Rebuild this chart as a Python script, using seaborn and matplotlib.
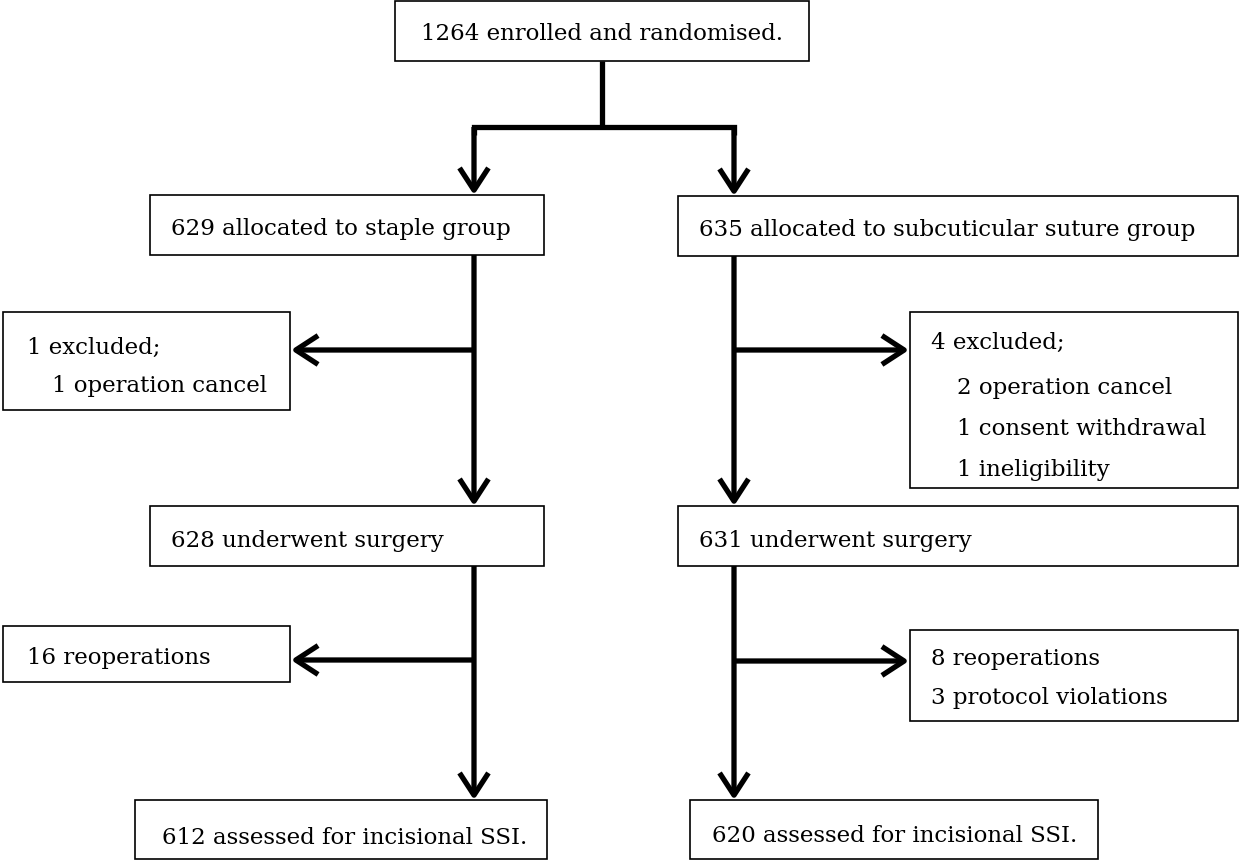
import matplotlib
matplotlib.use("Agg")
import matplotlib.pyplot as plt
from matplotlib.patches import Rectangle
import seaborn as sns

# trial numbers
enrolled = 1264
groups = ["staple group", "subcuticular suture group"]
allocated = [629, 635]
excluded = [1, 4]
exclusion_reasons = [
    [("operation cancel", 1)],
    [("operation cancel", 2), ("consent withdrawal", 1), ("ineligibility", 1)],
]
surgery = [628, 631]
reoperations = [16, 8]
protocol_violations = [0, 3]
assessed = [612, 620]

sns.set_theme(style="white")
plt.rcParams["font.family"] = ["DejaVu Serif"]

W, H = 1241, 862
fig = plt.figure(figsize=(W / 100, H / 100), dpi=100)
ax = fig.add_axes([0, 0, 1, 1])
ax.set_xlim(0, W)
ax.set_ylim(H, 0)
ax.axis("off")

FS = 16.5
BOX_LW = 1.2
ARROW_LW = 3.8


def box(x0, y0, x1, y1):
    ax.add_patch(Rectangle((x0, y0), x1 - x0, y1 - y0, fill=False,
                           edgecolor="black", lw=BOX_LW))


def path(xs, ys):
    ax.plot(xs, ys, color="black", lw=ARROW_LW,
            solid_capstyle="butt", solid_joinstyle="miter")


def arrow(x0, y0, x1, y1):
    ax.annotate("", xy=(x1, y1), xytext=(x0, y0),
                arrowprops=dict(arrowstyle="->,head_length=0.8,head_width=0.52",
                                lw=ARROW_LW, color="black", mutation_scale=20,
                                shrinkA=0, shrinkB=0, capstyle="butt"))


def label(x, y, s, ha="left"):
    ax.text(x, y, s, ha=ha, va="center", fontsize=FS, color="black")


cols = [474, 734]

# top box
box(395, 2, 809, 62)
label(602, 34, f"{enrolled} enrolled and randomised.", ha="center")
path([602, 602], [62, 128])
path([cols[0], cols[0], cols[1], cols[1]], [136, 128, 128, 136])
arrow(cols[0], 128, cols[0], 196)
arrow(cols[1], 128, cols[1], 197)

# allocation boxes
box(150, 196, 544, 256)
label(171, 229, f"{allocated[0]} allocated to {groups[0]}")
box(678, 197, 1238, 257)
label(699, 230, f"{allocated[1]} allocated to {groups[1]}")

# exclusions
arrow(cols[0], 256, cols[0], 507)
arrow(cols[0], 351, 291, 351)
box(3, 313, 290, 411)
label(27, 348, f"{excluded[0]} excluded;")
for i, (why, n) in enumerate(exclusion_reasons[0]):
    label(52, 386 + i * 42, f"{n} {why}")

arrow(cols[1], 257, cols[1], 507)
arrow(cols[1], 351, 909, 351)
box(910, 313, 1238, 489)
label(931, 343, f"{excluded[1]} excluded;")
for i, (why, n) in enumerate(exclusion_reasons[1]):
    label(957, 388 + i * 41, f"{n} {why}")

# surgery boxes
box(150, 507, 544, 567)
label(171, 541, f"{surgery[0]} underwent surgery")
box(678, 507, 1238, 567)
label(699, 541, f"{surgery[1]} underwent surgery")

# reoperations / violations
arrow(cols[0], 567, cols[0], 801)
arrow(cols[0], 661, 291, 661)
box(3, 627, 290, 683)
label(27, 658, f"{reoperations[0]} reoperations")

arrow(cols[1], 567, cols[1], 801)
arrow(cols[1], 662, 909, 662)
box(910, 631, 1238, 722)
label(931, 659, f"{reoperations[1]} reoperations")
label(931, 698, f"{protocol_violations[1]} protocol violations")

# assessed
box(135, 801, 547, 860)
label(345, 838, f"{assessed[0]} assessed for incisional SSI.", ha="center")
box(690, 801, 1098, 860)
label(712, 836, f"{assessed[1]} assessed for incisional SSI.")

fig.savefig("out.png", dpi=100, facecolor="white")
plt.close(fig)
